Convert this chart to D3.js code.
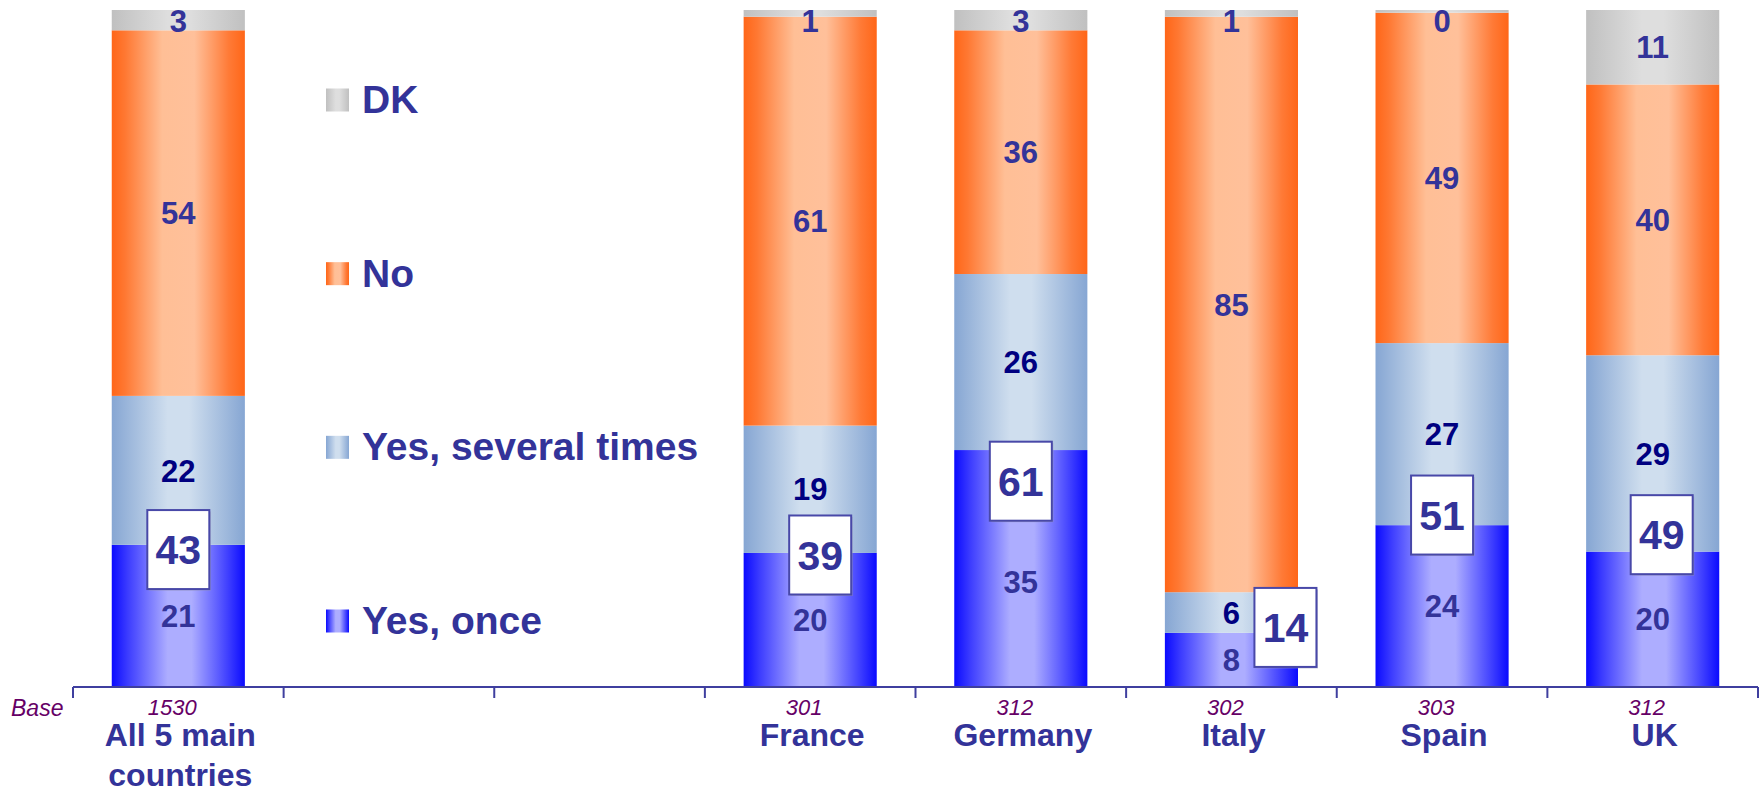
<!DOCTYPE html>
<html><head><meta charset="utf-8">
<script src="https://cdn.jsdelivr.net/npm/d3@7"></script>
<style>html,body{margin:0;padding:0;background:#fff;}svg{display:block;font-family:"Liberation Sans",Arial,sans-serif;}</style>
</head><body>
<svg id="chart" width="1761" height="792"></svg>
<script>
// ---- data ----
const categories = ["All 5 main countries", "", "", "France", "Germany", "Italy", "Spain", "UK"];
const bases      = ["1530", "", "", "301", "312", "302", "303", "312"];
const yesOnce    = [21, null, null, 20, 35, 8, 24, 20];
const yesSeveral = [22, null, null, 19, 26, 6, 27, 29];
const no         = [54, null, null, 61, 36, 85, 49, 40];
const dk         = [3, null, null, 1, 3, 1, 0.4, 11];
const netYes     = [43, null, null, 39, 61, 14, 51, 49];
const seriesNames = ["Yes, once", "Yes, several times", "No", "DK"];
// layout of the net-total boxes (value units / pixel nudge)
const netBoxAt  = [20.3, null, null, 19.5, 30.4, 8.8, 25.4, 22.5];
const netBoxDx  = [0, 0, 0, 10, 0, 54, 0, 9];
const onceLabelShift = [0, 0, 0, 0, 13, 0, 0, 0];

const svg = d3.select("#chart");
const x0 = 73, x1 = 1758, yBottom = 687, yTop = 10;

const keys = categories.map((c, i) => "k" + i);
const x = d3.scaleBand().domain(keys).range([x0, x1]).paddingInner(0.368).paddingOuter(0.184);
const y = d3.scaleLinear().domain([0, 1]).range([yBottom, yTop]);
const yPct = d3.scaleLinear().domain([0, 100]).range([yBottom, yTop]);

const rows = keys.map((k, i) => ({key: k, i, once: yesOnce[i], several: yesSeveral[i], no: no[i], dk: dk[i]}))
  .filter(r => r.once != null);
const stack = d3.stack().keys(["once", "several", "no", "dk"]).offset(d3.stackOffsetExpand);
const layers = stack(rows);

// gradients
const defs = svg.append("defs");
const grads = {
  once:    [[0, "#0a0aff"], [0.12, "#3c3cff"], [0.42, "#adadff"], [0.6, "#adadff"], [0.88, "#3c3cff"], [1, "#0a0aff"]],
  several: [[0, "#86a6d3"], [0.42, "#cfdeee"], [0.58, "#cfdeee"], [1, "#86a6d3"]],
  no:      [[0, "#ff6618"], [0.1, "#ff7832"], [0.38, "#ffbf96"], [0.62, "#ffc09a"], [0.88, "#ff7a36"], [1, "#ff6618"]],
  dk:      [[0, "#c0c0c0"], [0.42, "#dedede"], [0.58, "#dedede"], [1, "#c0c0c0"]]
};
Object.entries(grads).forEach(([k, stops]) => {
  const g = defs.append("linearGradient").attr("id", "g-" + k).attr("x1", 0).attr("x2", 1).attr("y1", 0).attr("y2", 0);
  stops.forEach(s => g.append("stop").attr("offset", s[0]).attr("stop-color", s[1]));
});

// bars
layers.forEach(layer => {
  svg.append("g").selectAll("rect").data(layer).join("rect")
    .attr("x", d => x(d.data.key))
    .attr("width", x.bandwidth())
    .attr("y", d => y(d[1]))
    .attr("height", d => y(d[0]) - y(d[1]))
    .attr("fill", "url(#g-" + layer.key + ")");
});

// segment labels
const labelColor = {once: "#333399", several: "#000080", no: "#333399", dk: "#333399"};
layers.forEach(layer => {
  svg.append("g").selectAll("text").data(layer).join("text")
    .attr("x", d => x(d.data.key) + x.bandwidth() / 2)
    .attr("y", d => {
      let c = (y(d[0]) + y(d[1])) / 2;
      if (layer.key === "dk") c = Math.max(c, y(1) + 11);
      if (layer.key === "once") c += onceLabelShift[d.data.i];
      return c;
    })
    .attr("dy", "0.36em")
    .attr("text-anchor", "middle")
    .attr("font-size", 31).attr("font-weight", "bold")
    .attr("fill", labelColor[layer.key])
    .text(d => d3.format(".0f")(d.data[layer.key]));
});

// net boxes
const boxW = 62, boxH = 79;
const netG = svg.append("g").selectAll("g").data(rows).join("g")
  .attr("transform", d => `translate(${x(d.key) + x.bandwidth() / 2 + netBoxDx[d.i]},${yPct(netBoxAt[d.i])})`);
netG.append("rect").attr("x", -boxW / 2 + 1.5).attr("y", -boxH / 2 + 1.5).attr("width", boxW).attr("height", boxH).attr("fill", "#9a9ab8").attr("opacity", 0.6);
netG.append("rect").attr("x", -boxW / 2).attr("y", -boxH / 2).attr("width", boxW).attr("height", boxH)
  .attr("fill", "#fff").attr("stroke", "#4848a8").attr("stroke-width", 2);
netG.append("text").attr("text-anchor", "middle").attr("dy", "0.36em")
  .attr("font-size", 41).attr("font-weight", "bold").attr("fill", "#333399")
  .text(d => netYes[d.i]);

// axis
const axisColor = "#3f3f9f";
svg.append("line").attr("x1", x0).attr("x2", x1).attr("y1", yBottom).attr("y2", yBottom)
  .attr("stroke", axisColor).attr("stroke-width", 2);
const tickXs = keys.map(k => x(k) - x.step() * x.paddingInner() / 2).concat([x1]);
svg.append("g").selectAll("line").data(tickXs).join("line")
  .attr("x1", d => d).attr("x2", d => d).attr("y1", yBottom).attr("y2", yBottom + 11)
  .attr("stroke", axisColor).attr("stroke-width", 2);

// base row
svg.append("text").attr("x", 11).attr("y", 716).attr("font-size", 23).attr("font-style", "italic")
  .attr("fill", "#660066").text("Base");
svg.append("g").selectAll("text").data(keys).join("text")
  .attr("x", k => x(k) + x.bandwidth() / 2 - 6).attr("y", 715)
  .attr("text-anchor", "middle").attr("font-size", 22).attr("font-style", "italic").attr("fill", "#660066")
  .text((k, i) => bases[i]);

// category labels
const catLines = categories.map(c => c === "All 5 main countries" ? ["All 5 main", "countries"] : [c]);
const catG = svg.append("g").selectAll("text").data(keys).join("text")
  .attr("x", k => x(k) + x.bandwidth() / 2 + 2).attr("y", 746)
  .attr("text-anchor", "middle").attr("font-size", 32).attr("font-weight", "bold").attr("fill", "#333399");
catG.each(function(k, i) {
  const t = d3.select(this);
  catLines[i].forEach((ln, j) => t.append("tspan").attr("x", x(k) + x.bandwidth() / 2 + 2).attr("dy", j === 0 ? 0 : 40).text(ln));
});

// legend
const legendKeys = ["dk", "no", "several", "once"];
const legendLabels = ["DK", "No", "Yes, several times", "Yes, once"];
const legendY = d3.scalePoint().domain(legendKeys).range([100, 621]);
const lg = svg.append("g").selectAll("g").data(legendKeys).join("g")
  .attr("transform", k => `translate(326,${legendY(k)})`);
lg.append("rect").attr("x", 0).attr("y", -11.5).attr("width", 23).attr("height", 23)
  .attr("fill", k => "url(#g-" + k + ")");
lg.append("text").attr("x", 36).attr("y", 13).attr("font-size", 39).attr("font-weight", "bold")
  .attr("fill", "#333399").text((k, i) => legendLabels[i]);
</script>
</body></html>
